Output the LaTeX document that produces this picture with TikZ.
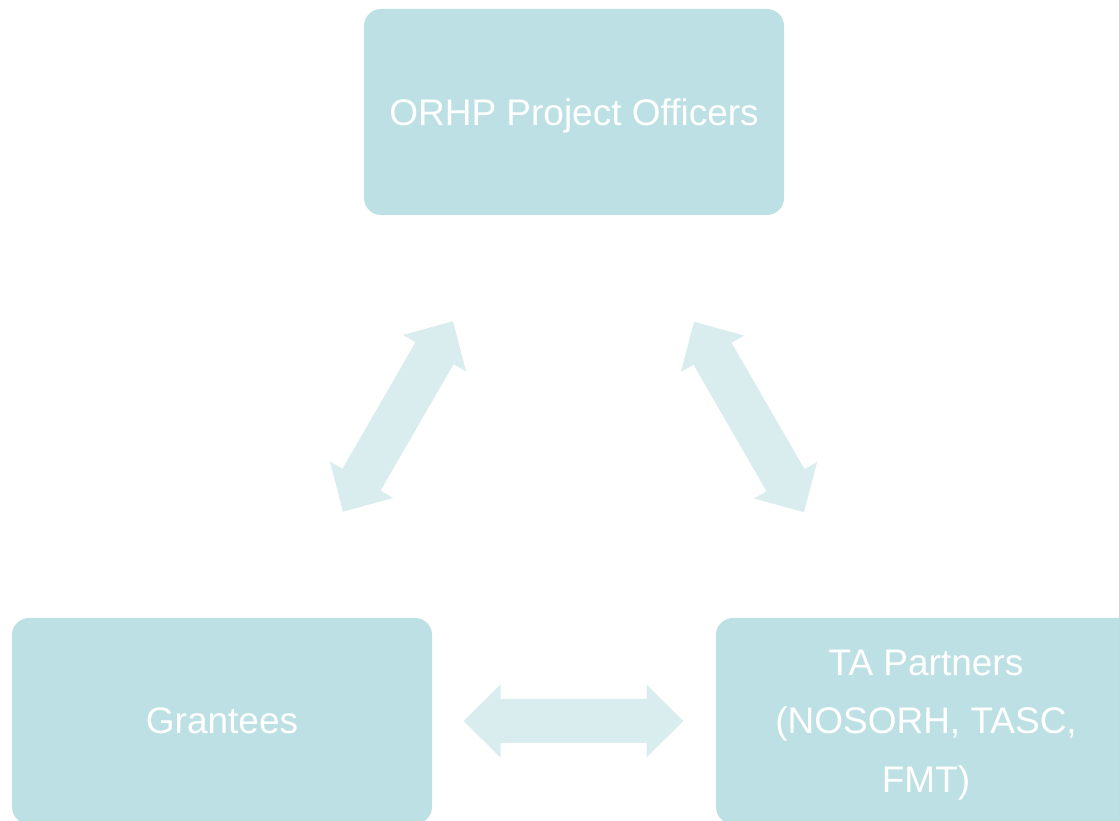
\documentclass[tikz,border=0pt]{standalone}
\usepackage{fontspec}
\setmainfont{Liberation Sans}
\definecolor{boxfill}{HTML}{BCE0E3}
\definecolor{arrowfill}{HTML}{DAEDEE}
\begin{document}
\begin{tikzpicture}[x=1pt,y=1pt,
  box/.style={rectangle, rounded corners=17pt, fill=boxfill, draw=none,
    minimum width=420pt, minimum height=206pt, inner sep=0pt, text depth=0pt,
    text=white, align=center, font=\fontsize{37}{58.5}\selectfont},
  dblarrow/.pic={\fill[arrowfill] (-110,0) -- (-73,36.5) -- (-73,22) -- (73,22)
      -- (73,36.5) -- (110,0) -- (73,-36.5) -- (73,-22) -- (-73,-22)
      -- (-73,-36.5) -- cycle;}]
\useasboundingbox (0,0) rectangle (1119,821);
\clip (0,0) rectangle (1119,821);
\node[box] (orhp) at (574,709) {ORHP Project Officers};
\node[box] (grantees) at (222,100) {Grantees};
\node[box] (ta) at (926,100) {TA Partners\\(NOSORH, TASC,\\FMT)};
\coordinate (cleft) at (398,404.5);
\coordinate (cright) at (749,404);
\coordinate (cbottom) at (573.5,100);
\pic[rotate=60] (arrowleft) at (cleft) {dblarrow};
\pic[rotate=-60] (arrowright) at (cright) {dblarrow};
\pic (arrowbottom) at (cbottom) {dblarrow};
\end{tikzpicture}
\end{document}
